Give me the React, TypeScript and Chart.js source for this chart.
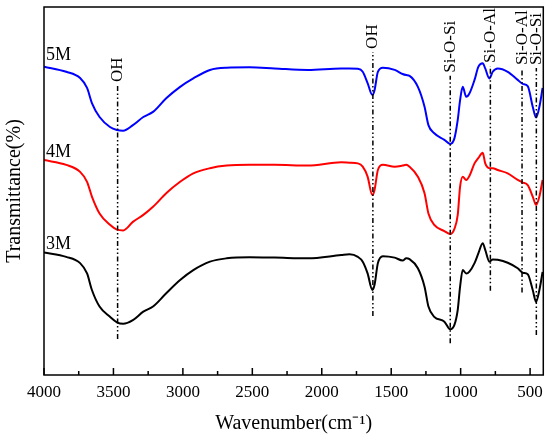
import { useEffect, useRef } from 'react'
import Chart from 'chart.js/auto'

// FTIR spectra, transmittance in arbitrary units (0-100 across the plot)
const wavenumbers = [
  4000, 3840, 3740, 3690, 3655, 3600, 3525, 3475, 3430, 3360, 3285, 3215, 3120, 3020, 2925,
  2805, 2685, 2520, 2340, 2100, 1860, 1800, 1740, 1705, 1670, 1636, 1620, 1596, 1560, 1475,
  1418, 1392, 1368, 1308, 1260, 1232, 1190, 1117, 1075, 1045, 1021, 1004, 985, 960, 937,
  900, 872, 841, 823, 793, 769, 733, 661, 589, 553, 517, 481, 457, 433, 410,
]
const t5M = [
  83.8, 82.4, 80.7, 78.0, 73.9, 70.1, 67.4, 66.6, 66.4, 67.9, 70.1, 71.5, 75.2, 78.3, 80.6,
  82.9, 83.5, 83.6, 83.3, 82.9, 83.3, 83.3, 83.2, 82.4, 79.3, 76.1, 77.4, 82.4, 83.5, 82.9,
  81.8, 81.5, 81.3, 78.3, 72.9, 67.9, 65.7, 63.9, 62.8, 64.3, 69.3, 74.7, 78.3, 75.6, 76.5,
  80.2, 83.8, 84.7, 83.3, 80.6, 82.4, 83.3, 82.4, 80.2, 79.1, 78.5, 72.9, 70.0, 72.9, 78.0,
]
const t4M = [
  58.4, 57.1, 55.2, 52.5, 48.5, 43.9, 40.8, 39.5, 39.3, 41.6, 43.5, 45.7, 49.4, 52.5, 54.8,
  56.2, 56.9, 57.1, 57.1, 56.9, 57.8, 57.7, 57.5, 56.6, 53.9, 48.9, 50.3, 55.7, 57.1, 56.6,
  56.9, 57.1, 56.6, 53.9, 49.4, 43.9, 40.8, 39.1, 38.3, 39.7, 43.5, 51.2, 53.9, 53.0, 54.1,
  57.5, 59.0, 60.4, 57.5, 56.2, 56.2, 55.7, 54.8, 53.0, 52.3, 51.6, 48.5, 46.2, 48.5, 53.0,
]
const t3M = [
  33.3, 32.1, 30.4, 27.6, 23.1, 18.6, 15.8, 14.3, 13.9, 14.9, 17.2, 18.6, 22.2, 25.8, 28.5,
  30.8, 31.7, 32.0, 31.9, 31.7, 32.6, 32.8, 32.1, 30.8, 27.6, 23.1, 24.5, 30.4, 32.3, 31.9,
  31.1, 31.7, 31.5, 29.0, 24.0, 18.6, 15.8, 14.5, 12.4, 13.6, 17.7, 24.0, 28.5, 27.6, 28.1,
  30.4, 33.1, 35.8, 34.0, 30.8, 31.4, 31.3, 30.5, 29.0, 27.8, 27.4, 23.1, 19.9, 23.1, 28.0,
]

const seriesNames = ['5M', '4M', '3M']
const seriesColors = ['#0000ff', '#ff0000', '#000000']
const seriesLabelY = [85.6, 59.2, 34.2]
const seriesLabelX = 3986

// assigned bands
const bandWavenumbers = [3470, 1632, 1075, 786, 558, 455]
const bandNames = ['OH', 'OH', 'Si-O-Si', 'Si-O-Al', 'Si-O-Al', 'Si-O-Si']
const bandTop = [78.8, 87.8, 81.3, 84.0, 83.4, 83.4]
const bandBottom = [9.8, 16.0, 8.6, 22.9, 22.4, 10.9]

const majorTicks = [4000, 3500, 3000, 2500, 2000, 1500, 1000, 500]
const minorTicks = [3750, 3250, 2750, 2250, 1750, 1250, 750]

const FONT = '"Liberation Serif", "Times New Roman", serif'

const decorPlugin = {
  id: 'decor',
  afterDatasetsDraw(chart: any) {
    const { ctx, chartArea: a, scales } = chart
    const x = scales.x
    const y = scales.y
    ctx.save()
    ctx.strokeStyle = '#000'
    ctx.lineWidth = 1.5
    ctx.strokeRect(a.left, a.top, a.right - a.left, a.bottom - a.top)

    ctx.beginPath()
    majorTicks.forEach((v) => {
      const px = x.getPixelForValue(v)
      ctx.moveTo(px, a.bottom)
      ctx.lineTo(px, a.bottom - 7)
    })
    minorTicks.forEach((v) => {
      const px = x.getPixelForValue(v)
      ctx.moveTo(px, a.bottom)
      ctx.lineTo(px, a.bottom - 4)
    })
    ctx.stroke()

    ctx.fillStyle = '#000'
    ctx.font = `18px ${FONT}`
    ctx.textAlign = 'left'
    ctx.textBaseline = 'alphabetic'
    seriesNames.forEach((name, i) => {
      ctx.fillText(name, x.getPixelForValue(seriesLabelX), y.getPixelForValue(seriesLabelY[i]))
    })

    ctx.font = `17px ${FONT}`
    ctx.textBaseline = 'middle'
    bandNames.forEach((name, i) => {
      const px = x.getPixelForValue(bandWavenumbers[i])
      const py = y.getPixelForValue(bandTop[i]) - 3
      ctx.save()
      ctx.translate(px, py)
      ctx.rotate(-Math.PI / 2)
      ctx.fillText(name, 0, 0)
      ctx.restore()
    })
    ctx.restore()
  },
}

export default function App() {
  const chartRef = useRef<HTMLCanvasElement>(null)
  const chartInstance = useRef<Chart | null>(null)

  useEffect(() => {
    document.body.style.margin = '0'
    if (!chartRef.current) return
    if (chartInstance.current) chartInstance.current.destroy()

    const spectra = [t5M, t4M, t3M].map((vals, i) => ({
      label: seriesNames[i],
      data: wavenumbers.map((w, j) => ({ x: w, y: vals[j] })),
      borderColor: seriesColors[i],
      borderWidth: 2,
      pointRadius: 0,
      cubicInterpolationMode: 'monotone' as const,
      fill: false,
    }))

    const bands = bandWavenumbers.map((w, i) => ({
      label: bandNames[i],
      data: [
        { x: w, y: bandBottom[i] },
        { x: w, y: bandTop[i] },
      ],
      borderColor: '#000',
      borderWidth: 1.5,
      borderDash: [5, 2.5, 1.5, 2.5, 1.5, 2.5],
      pointRadius: 0,
      fill: false,
    }))

    chartInstance.current = new Chart(chartRef.current, {
      type: 'line',
      data: { datasets: [...bands, ...spectra] },
      options: {
        animation: false,
        responsive: true,
        maintainAspectRatio: false,
        layout: { padding: { top: 7, right: 6, left: 0, bottom: 0 } },
        plugins: { legend: { display: false }, tooltip: { enabled: false } },
        scales: {
          x: {
            type: 'linear',
            reverse: true,
            min: 405,
            max: 4000,
            afterBuildTicks: (scale: any) => {
              scale.ticks = majorTicks.map((v) => ({ value: v }))
            },
            afterFit: (scale: any) => {
              scale.height = 66
            },
            grid: { display: false, drawTicks: false },
            border: { display: false },
            ticks: {
              color: '#000',
              padding: 7,
              maxRotation: 0,
              autoSkip: false,
              font: { family: FONT, size: 17 },
              callback: (v: any) => String(v),
            },
            title: {
              display: true,
              text: 'Wavenumber(cm⁻¹)',
              color: '#000',
              padding: { top: 0, bottom: 5 },
              font: { family: FONT, size: 20 },
            },
          },
          y: {
            min: 0,
            max: 100,
            afterFit: (scale: any) => {
              scale.width = 44
            },
            grid: { display: false, drawTicks: false },
            border: { display: false },
            ticks: { display: false },
            title: {
              display: true,
              text: 'Transmittance(%)',
              color: '#000',
              padding: { top: 3, bottom: 0 },
              font: { family: FONT, size: 20 },
            },
          },
        },
      },
      plugins: [decorPlugin],
    })

    return () => {
      if (chartInstance.current) {
        chartInstance.current.destroy()
        chartInstance.current = null
      }
    }
  }, [])

  return (
    <div style={{ width: 550, height: 441, background: '#fff' }}>
      <canvas ref={chartRef} />
    </div>
  )
}
